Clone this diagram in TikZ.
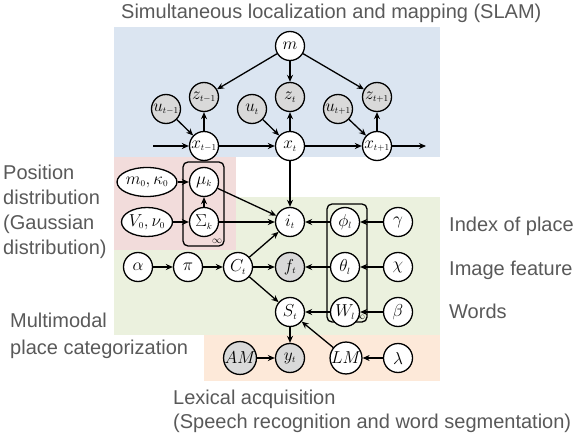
\documentclass[tikz,border=0pt]{standalone}
\usepackage{fontspec}
\setmainfont{Liberation Sans}
\usetikzlibrary{arrows.meta,shapes.geometric}
\definecolor{bgblue}{HTML}{DBE5F1}
\definecolor{bgpink}{HTML}{F2DCDB}
\definecolor{bggreen}{HTML}{EBF1DE}
\definecolor{bgorange}{HTML}{FDE9D9}
\definecolor{shade}{HTML}{D9D9D9}
\definecolor{lbl}{HTML}{595959}
\newcommand{\sbs}[1]{_{\scriptscriptstyle #1}}
\begin{document}
\begin{tikzpicture}[x=1pt,y=-1pt,
  rv/.style={circle,draw,line width=1.3pt,minimum size=29pt,inner sep=0pt,fill=white,font=\fontsize{18}{18}\selectfont},
  obs/.style={rv,fill=shade},
  hyp/.style={ellipse,draw,line width=1.3pt,minimum width=48pt,minimum height=29pt,inner sep=0pt,fill=white,font=\fontsize{18}{18}\selectfont},
  plate/.style={draw,line width=1.3pt,rounded corners=5pt},
  arr/.style={line width=1.3pt,-{Stealth[length=7pt,width=6pt]}},
  lab/.style={anchor=base west,text=lbl,font=\fontsize{20}{25}\selectfont,align=left,inner sep=0pt},
  inf/.style={font=\fontsize{10}{10}\selectfont,inner sep=0pt}
]
\useasboundingbox (0,0) rectangle (581,433);
% backgrounds
\fill[bgblue] (114,27) rectangle (440,157);
\fill[bggreen] (114,197) rectangle (440,335);
\fill[bgpink] (114,157) rectangle (236,250);
\fill[bgorange] (204,335) rectangle (440,381);
% plates
\draw[plate] (183,162) rectangle (224,246);
\node[inf] (inf1) at (217,241) {$\infty$};
\draw[plate] (327,204) rectangle (367,322);
\node[inf] (inf2) at (360,317) {$\infty$};
% SLAM
\node[rv] (m) at (290,46) {$m$};
\node[obs] (z1) at (204,97) {$z\sbs{t-1}$};
\node[obs] (z2) at (290,97) {$z\sbs{t}$};
\node[obs] (z3) at (377,97) {$z\sbs{t+1}$};
\node[obs] (u1) at (166,109) {$u\sbs{t-1}$};
\node[obs] (u2) at (252,109) {$u\sbs{t}$};
\node[obs] (u3) at (338,109) {$u\sbs{t+1}$};
\node[rv] (x1) at (204,146) {$x\sbs{t-1}$};
\node[rv] (x2) at (290,146) {$x\sbs{t}$};
\node[rv] (x3) at (377,146) {$x\sbs{t+1}$};
\coordinate (xin) at (153,146);
\coordinate (xout) at (426,146);
% position distribution
\node[hyp] (mk) at (147,182) {$m\sbs{0},\kappa\sbs{0}$};
\node[hyp] (vn) at (147,222) {$V\sbs{0},\nu\sbs{0}$};
\node[rv] (mu) at (204,182) {$\mu\sbs{k}$};
\node[rv] (sig) at (204,222) {$\Sigma\sbs{k}$};
% middle
\node[rv] (i) at (290,222) {$i\sbs{t}$};
\node[obs] (f) at (290,267) {$f\sbs{t}$};
\node[rv] (S) at (290,312) {$S\sbs{t}$};
\node[obs] (y) at (290,358) {$y\sbs{t}$};
\node[rv] (alpha) at (138,267) {$\alpha$};
\node[rv] (pi) at (188,267) {$\pi$};
\node[rv] (C) at (238,267) {$C\sbs{t}$};
\node[rv] (phi) at (345,222) {$\phi\sbs{l}$};
\node[rv] (theta) at (345,267) {$\theta\sbs{l}$};
\node[rv] (W) at (345,312) {$W\sbs{l}$};
\node[rv] (gamma) at (398,222) {$\gamma$};
\node[rv] (chi) at (398,267) {$\chi$};
\node[rv] (beta) at (398,312) {$\beta$};
\node[obs] (AM) at (240,358) {$AM$};
\node[rv] (LM) at (346,358) {$LM$};
\node[rv] (lam) at (398,358) {$\lambda$};
% edges
\draw[arr] (m) -- (z1);
\draw[arr] (m) -- (z2);
\draw[arr] (m) -- (z3);
\draw[arr] (u1) -- (x1);
\draw[arr] (u2) -- (x2);
\draw[arr] (u3) -- (x3);
\draw[arr] (x1) -- (z1);
\draw[arr] (x2) -- (z2);
\draw[arr] (x3) -- (z3);
\draw[arr] (xin) -- (x1);
\draw[arr] (x1) -- (x2);
\draw[arr] (x2) -- (x3);
\draw[arr] (x3) -- (xout);
\draw[arr] (x2) -- (i);
\draw[arr] (mk) -- (mu);
\draw[arr] (vn) -- (sig);
\draw[arr] (sig) -- (mu);
\draw[arr] (mu) -- (i);
\draw[arr] (sig) -- (i);
\draw[arr] (phi) -- (i);
\draw[arr] (gamma) -- (phi);
\draw[arr] (theta) -- (f);
\draw[arr] (chi) -- (theta);
\draw[arr] (W) -- (S);
\draw[arr] (beta) -- (W);
\draw[arr] (alpha) -- (pi);
\draw[arr] (pi) -- (C);
\draw[arr] (C) -- (f);
\draw[arr] (C) -- (i);
\draw[arr] (C) -- (S);
\draw[arr] (S) -- (y);
\draw[arr] (AM) -- (y);
\draw[arr] (LM) -- (S);
\draw[arr] (lam) -- (LM);
% labels
\node[lab] (t1) at (121,19) {Simultaneous localization and mapping (SLAM)};
\node[lab] (t2) at (3,254) {Position\\distribution\\(Gaussian\\distribution)};
\node[lab] (t3) at (449,231) {Index of place};
\node[lab] (t4) at (449,275) {Image feature};
\node[lab] (t5) at (449,318) {Words};
\node[lab,font=\fontsize{20}{27}\selectfont] (t6) at (10,354) {Multimodal\\place categorization};
\node[lab,font=\fontsize{20}{24}\selectfont] (t7) at (173,428) {Lexical acquisition\\(Speech recognition and word segmentation)};
\end{tikzpicture}
\end{document}
